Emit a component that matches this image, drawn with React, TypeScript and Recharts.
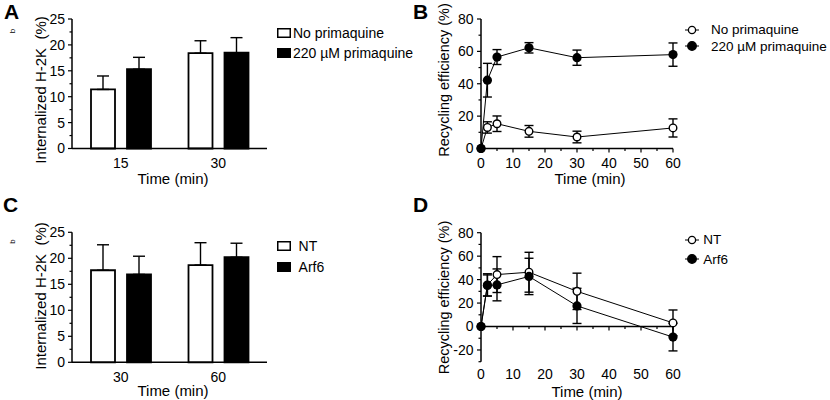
import React from "react";
import {
  BarChart,
  Bar,
  ComposedChart,
  Line,
  XAxis,
  YAxis,
  ErrorBar,
  Legend,
  Label,
  ReferenceLine,
} from "recharts";

const FONT = '"Liberation Sans", Arial, Helvetica, sans-serif';

// A: internalized H-2K, primaquine
const minutesA = ["15", "30"];
const noPrimaquineA = [11.4, 18.4];
const noPrimaquineErrA = [2.6, 2.4];
const primaquineA = [15.3, 18.5];
const primaquineErrA = [2.3, 2.9];

// C: internalized H-2K, NT vs Arf6
const minutesC = ["30", "60"];
const ntC = [17.7, 18.7];
const ntErrC = [4.9, 4.3];
const arf6C = [16.9, 20.2];
const arf6ErrC = [3.5, 2.7];

// B: recycling efficiency, primaquine
const timeB = [0, 2, 5, 15, 30, 60];
const noPrimaquineB = [0, 13, 15.3, 10.6, 7.1, 12.7];
const noPrimaquineErrB = [0, 3.5, 4.8, 3.6, 3.6, 5.6];
const primaquineB = [0, 42.2, 56.5, 62.2, 56.1, 58];
const primaquineErrB = [0, 10.4, 4.6, 3.2, 4.7, 7.2];

// D: recycling efficiency, NT vs Arf6
const timeD = [0, 2, 5, 15, 30, 60];
const ntD = [0, 35.5, 44.3, 46.3, 30, 3.1];
const ntErrD = [0, 9.5, 15.3, 17, 15.5, 11];
const arf6D = [0, 35, 35.5, 42.7, 17.6, -9];
const arf6ErrD = [0, 9, 13.6, 15.5, 15, 11.8];

// tick positions
const barYTicks = [0, 2.5, 5, 7.5, 10, 12.5, 15, 17.5, 20, 22.5, 25];
const timeTicks = [0, 5, 10, 15, 20, 25, 30, 35, 40, 45, 50, 55, 60];
const recycleTicksB = [0, 10, 20, 30, 40, 50, 60, 70, 80];
const recycleTicksD = [-30, -20, -10, 0, 10, 20, 30, 40, 50, 60, 70, 80];

const legendA = [
  { name: "No primaquine", fill: "#fff" },
  { name: "220 µM primaquine", fill: "#000" },
];
const legendC = [
  { name: "NT", fill: "#fff" },
  { name: "Arf6", fill: "#000" },
];

const dataA = minutesA.map((m, i) => ({
  time: m,
  a: noPrimaquineA[i],
  aErr: [0, noPrimaquineErrA[i]],
  b: primaquineA[i],
  bErr: [0, primaquineErrA[i]],
}));
const dataC = minutesC.map((m, i) => ({
  time: m,
  a: ntC[i],
  aErr: [0, ntErrC[i]],
  b: arf6C[i],
  bErr: [0, arf6ErrC[i]],
}));
const dataB = timeB.map((t, i) => ({
  t,
  a: noPrimaquineB[i],
  aErr: noPrimaquineErrB[i],
  b: primaquineB[i],
  bErr: primaquineErrB[i],
}));
const dataD = timeD.map((t, i) => ({
  t,
  a: ntD[i],
  aErr: ntErrD[i],
  b: arf6D[i],
  bErr: arf6ErrD[i],
}));

const AXIS = { stroke: "#000", strokeWidth: 1.5 };

function isMajor(v: number, every: number) {
  const r = v / every;
  return Math.abs(r - Math.round(r)) < 1e-6;
}

function YTick(props: any) {
  const { x, y, payload, every, margin } = props;
  const v = payload.value;
  const major = isMajor(v, every);
  const ax = x + margin;
  return (
    <g>
      <line x1={ax} x2={ax - (major ? 4 : 2.5)} y1={y} y2={y} stroke="#000" strokeWidth={1.2} />
      {major && (
        <text x={x} y={y} dy="0.355em" textAnchor="end" fontSize={14} fontFamily={FONT} fill="#000">
          {v}
        </text>
      )}
    </g>
  );
}

function XTick(props: any) {
  const { x, y, payload, every, lineY } = props;
  const v = payload.value;
  const major = isMajor(v, every);
  return (
    <g>
      <line x1={x} x2={x} y1={lineY} y2={lineY + (major ? 4 : 2.5)} stroke="#000" strokeWidth={1.2} />
      {major && (
        <text x={x} y={y} dy="0.71em" textAnchor="middle" fontSize={14} fontFamily={FONT} fill="#000">
          {v}
        </text>
      )}
    </g>
  );
}

function HTitle({ x, y }: { x: number; y: number }) {
  return (
    <text x={x} y={y} textAnchor="middle" fontSize={15} fontFamily={FONT} fill="#000">
      Time (min)
    </text>
  );
}

function VTitle({ x, y, text, size }: { x: number; y: number; text: string; size: number }) {
  return (
    <text
      x={x}
      y={y}
      transform={`rotate(-90 ${x} ${y})`}
      textAnchor="middle"
      fontSize={size}
      fontFamily={FONT}
      fill="#000"
    >
      {text}
    </text>
  );
}

function H2KTitle({ y, supY }: { y: number; supY: number }) {
  return (
    <g>
      <VTitle x={46} y={y} text={"Internalized H-2K\u00A0\u00A0(%)"} size={15} />
      <VTitle x={15} y={supY} text="b" size={8} />
    </g>
  );
}

function BoxLegend({ items, rowH, gap }: { items: { name: string; fill: string }[]; rowH: number; gap: number }) {
  return (
    <div style={{ fontFamily: FONT, fontSize: 14, color: "#000", whiteSpace: "nowrap" }}>
      {items.map((it) => (
        <div key={it.name} style={{ display: "flex", alignItems: "center", height: rowH }}>
          <svg width={14} height={10} style={{ marginRight: gap, display: "block" }}>
            <rect x={0.75} y={0.75} width={12.5} height={8.5} fill={it.fill} stroke="#000" strokeWidth={1.5} />
          </svg>
          <span>{it.name}</span>
        </div>
      ))}
    </div>
  );
}

function DotLegend({ items, rowH, gap }: { items: { name: string; fill: string }[]; rowH: number; gap: number }) {
  return (
    <div style={{ fontFamily: FONT, fontSize: 13.5, color: "#000", whiteSpace: "nowrap" }}>
      {items.map((it) => (
        <div key={it.name} style={{ display: "flex", alignItems: "center", height: rowH }}>
          <svg width={14} height={10} style={{ marginRight: gap, display: "block" }}>
            <line x1={0} x2={14} y1={5} y2={5} stroke="#000" strokeWidth={1} />
            <circle cx={7} cy={5} r={it.fill === "#fff" ? 3.6 : 4.3} fill={it.fill} stroke="#000" strokeWidth={1.3} />
          </svg>
          <span>{it.name}</span>
        </div>
      ))}
    </div>
  );
}

const openDot = (p: any) => (
  <circle key={`o${p.index}`} cx={p.cx} cy={p.cy} r={3.8} fill="#fff" stroke="#000" strokeWidth={1.4} />
);
const filledDot = (p: any) => (
  <circle key={`f${p.index}`} cx={p.cx} cy={p.cy} r={4.6} fill="#000" stroke="none" />
);

function InternalizedPanel({
  data,
  legend,
  top,
  bottom,
  legendTop,
  legendRow,
  legendGap,
  titleY,
  supY,
  xTitleY,
}: any) {
  return (
    <BarChart
      width={415}
      height={200}
      data={data}
      margin={{ top, right: 148, bottom, left: 0 }}
      barSize={24}
      barGap={12}
    >
      <XAxis
        dataKey="time"
        height={30}
        axisLine={AXIS}
        tickLine={false}
        tickSize={0}
        tickMargin={10}
        tick={{ fill: "#000", fontSize: 14, fontFamily: FONT }}
      >
        <Label content={() => <HTitle x={173} y={xTitleY} />} />
      </XAxis>
      <YAxis
        width={72}
        domain={[0, 25]}
        ticks={barYTicks}
        interval={0}
        axisLine={AXIS}
        tickLine={false}
        tickSize={0}
        tickMargin={7}
        tick={(p: any) => <YTick {...p} every={5} margin={7} />}
      >
        <Label content={() => <H2KTitle y={titleY} supY={supY} />} />
      </YAxis>
      <Bar dataKey="a" name={legend[0].name} fill="#fff" stroke="#000" strokeWidth={1.8} isAnimationActive={false}>
        <ErrorBar dataKey="aErr" width={6} stroke="#000" strokeWidth={1.4} />
      </Bar>
      <Bar dataKey="b" name={legend[1].name} fill="#000" stroke="#000" strokeWidth={1.8} isAnimationActive={false}>
        <ErrorBar dataKey="bErr" width={6} stroke="#000" strokeWidth={1.4} />
      </Bar>
      <Legend
        layout="horizontal"
        verticalAlign="middle"
        align="center"
        wrapperStyle={{ left: 277, top: legendTop, width: "auto" }}
        content={() => <BoxLegend items={legend} rowH={legendRow} gap={legendGap} />}
      />
    </BarChart>
  );
}

function PanelB() {
  const legend = [
    { name: "No primaquine", fill: "#fff" },
    { name: "220 µM primaquine", fill: "#000" },
  ];
  return (
    <ComposedChart width={415} height={200} data={dataB} margin={{ top: 19, right: 157, bottom: 11.5, left: 0 }}>
      <XAxis
        type="number"
        dataKey="t"
        domain={[0, 60]}
        ticks={timeTicks}
        interval={0}
        height={40}
        axisLine={AXIS}
        tickLine={false}
        tickSize={0}
        tickMargin={10}
        tick={(p: any) => <XTick {...p} every={10} lineY={p.y - 10} />}
      >
        <Label content={() => <HTitle x={175} y={184} />} />
      </XAxis>
      <YAxis
        width={66}
        domain={[0, 80]}
        ticks={recycleTicksB}
        interval={0}
        axisLine={AXIS}
        tickLine={false}
        tickSize={0}
        tickMargin={7.5}
        tick={(p: any) => <YTick {...p} every={20} margin={7.5} />}
      >
        <Label content={() => <VTitle x={34} y={80} text="Recycling efficiency (%)" size={14.5} />} />
      </YAxis>
      <Line dataKey="a" name={legend[0].name} type="linear" stroke="#000" strokeWidth={1} dot={openDot} activeDot={false} isAnimationActive={false}>
        <ErrorBar dataKey="aErr" direction="y" width={4.5} stroke="#000" strokeWidth={1.4} />
      </Line>
      <Line dataKey="b" name={legend[1].name} type="linear" stroke="#000" strokeWidth={1} dot={filledDot} activeDot={false} isAnimationActive={false}>
        <ErrorBar dataKey="bErr" direction="y" width={4.5} stroke="#000" strokeWidth={1.4} />
      </Line>
      <Legend
        layout="horizontal"
        verticalAlign="middle"
        align="center"
        wrapperStyle={{ left: 270, top: 21.5, width: "auto" }}
        content={() => <DotLegend items={legend} rowH={16.5} gap={12} />}
      />
    </ComposedChart>
  );
}

// D geometry: plot top and height, used to put the time axis on the zero line
const D_TOP = 32.7;
const D_PLOT_H = 129;
const D_MIN = -30;
const D_MAX = 80;

function PanelD() {
  const legend = [
    { name: "NT", fill: "#fff" },
    { name: "Arf6", fill: "#000" },
  ];
  const zeroY = D_TOP + ((D_MAX - 0) / (D_MAX - D_MIN)) * D_PLOT_H;
  return (
    <ComposedChart width={415} height={200} data={dataD} margin={{ top: D_TOP, right: 157, bottom: 8.3, left: 0 }}>
      <XAxis
        type="number"
        dataKey="t"
        domain={[0, 60]}
        ticks={timeTicks}
        interval={0}
        height={30}
        axisLine={false}
        tickLine={false}
        tickSize={0}
        tickMargin={7}
        tick={(p: any) => <XTick {...p} every={10} lineY={zeroY} />}
      >
        <Label content={() => <HTitle x={172} y={196.5} />} />
      </XAxis>
      <YAxis
        width={66}
        domain={[D_MIN, D_MAX]}
        ticks={recycleTicksD}
        interval={0}
        axisLine={AXIS}
        tickLine={false}
        tickSize={0}
        tickMargin={7.5}
        tick={(p: any) => <YTick {...p} every={20} margin={7.5} />}
      >
        <Label content={() => <VTitle x={34} y={97.5} text="Recycling efficiency (%)" size={14.5} />} />
      </YAxis>
      <ReferenceLine y={0} stroke="#000" strokeWidth={1.5} />
      <Line dataKey="a" name={legend[0].name} type="linear" stroke="#000" strokeWidth={1} dot={openDot} activeDot={false} isAnimationActive={false}>
        <ErrorBar dataKey="aErr" direction="y" width={4.5} stroke="#000" strokeWidth={1.4} />
      </Line>
      <Line dataKey="b" name={legend[1].name} type="linear" stroke="#000" strokeWidth={1} dot={filledDot} activeDot={false} isAnimationActive={false}>
        <ErrorBar dataKey="bErr" direction="y" width={4.5} stroke="#000" strokeWidth={1.4} />
      </Line>
      <Legend
        layout="horizontal"
        verticalAlign="middle"
        align="center"
        wrapperStyle={{ left: 270, top: 30.3, width: "auto" }}
        content={() => <DotLegend items={legend} rowH={19.3} gap={4.3} />}
      />
    </ComposedChart>
  );
}

export default function App() {
  const letter = { fontSize: 21, fontWeight: 700, fontFamily: FONT, fill: "#000" } as const;
  return (
    <div
      style={{
        position: "absolute",
        left: 0,
        top: 0,
        width: 830,
        height: 400,
        background: "#fff",
        fontFamily: FONT,
        overflow: "hidden",
      }}
    >
      <div style={{ position: "absolute", left: 0, top: 0 }}>
        <InternalizedPanel
          data={dataA}
          legend={legendA}
          top={19}
          bottom={21.5}
          legendTop={23}
          legendRow={20}
          legendGap={2}
          titleY={90}
          supY={31}
          xTitleY={184}
        />
      </div>
      <div style={{ position: "absolute", left: 415, top: 0 }}>
        <PanelB />
      </div>
      <div style={{ position: "absolute", left: 0, top: 200 }}>
        <InternalizedPanel
          data={dataC}
          legend={legendC}
          top={32.3}
          bottom={7.7}
          legendTop={35.2}
          legendRow={21}
          legendGap={7.6}
          titleY={96}
          supY={41.5}
          xTitleY={196}
        />
      </div>
      <div style={{ position: "absolute", left: 415, top: 200 }}>
        <PanelD />
      </div>
      <svg width={830} height={400} style={{ position: "absolute", left: 0, top: 0, pointerEvents: "none" }}>
        <text x={4} y={19} {...letter}>A</text>
        <text x={413} y={19} {...letter}>B</text>
        <text x={3} y={212} {...letter}>C</text>
        <text x={413} y={212} {...letter}>D</text>
      </svg>
    </div>
  );
}
